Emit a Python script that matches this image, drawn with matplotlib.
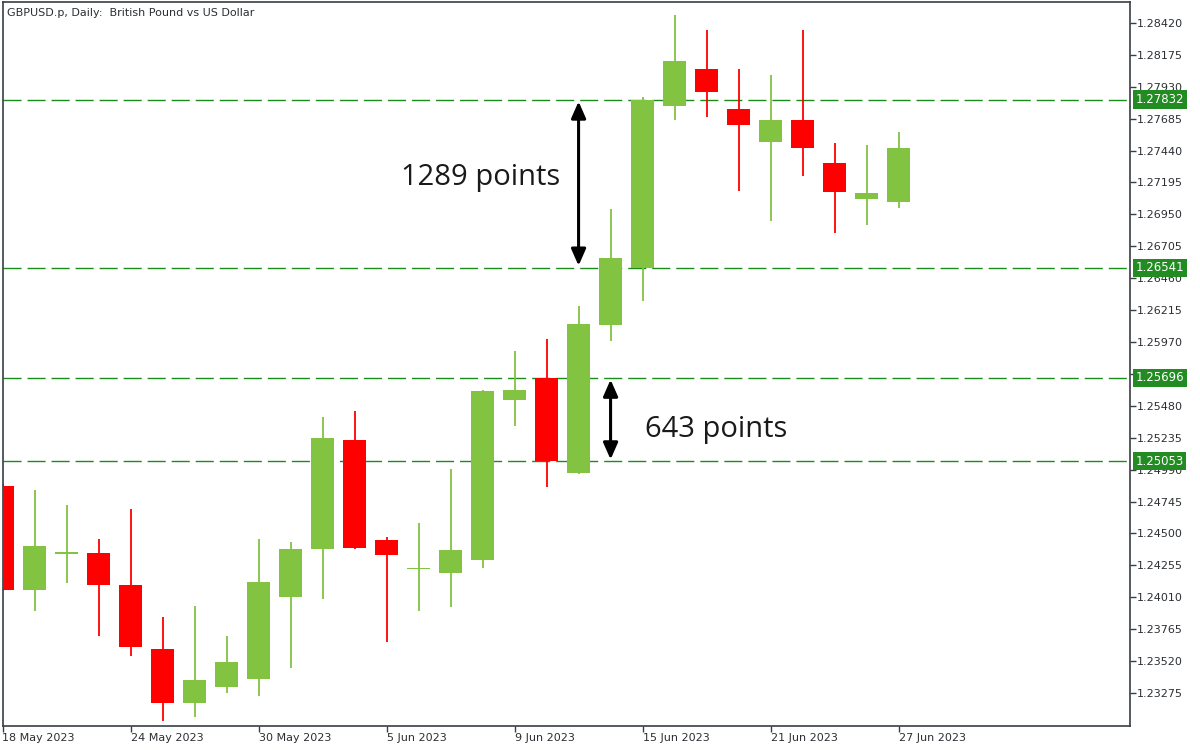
import matplotlib; matplotlib.use("Agg")
import matplotlib.pyplot as plt
import numpy as np

# GBPUSD daily, 18 May - 27 Jun 2023
dates = ["18 May", "19 May", "22 May", "23 May", "24 May", "25 May", "26 May", "29 May",
         "30 May", "31 May", "1 Jun", "2 Jun", "5 Jun", "6 Jun", "7 Jun", "8 Jun", "9 Jun",
         "12 Jun", "13 Jun", "14 Jun", "15 Jun", "16 Jun", "19 Jun", "20 Jun", "21 Jun",
         "22 Jun", "23 Jun", "26 Jun", "27 Jun"]
opens  = [1.24864, 1.24066, 1.24342, 1.24350, 1.24104, 1.23613, 1.23198, 1.23321, 1.23382,
          1.24012, 1.24381, 1.25218, 1.24450, 1.24225, 1.24196, 1.24296, 1.25525, 1.25696,
          1.24964, 1.26101, 1.26541, 1.27783, 1.28067, 1.27760, 1.27506, 1.27675, 1.27345,
          1.27068, 1.27045]
highs  = [1.24880, 1.24834, 1.24719, 1.24457, 1.24688, 1.23859, 1.23943, 1.23713, 1.24457,
          1.24434, 1.25394, 1.25440, 1.24473, 1.24580, 1.24995, 1.25602, 1.25901, 1.25993,
          1.26247, 1.26992, 1.27852, 1.28481, 1.28366, 1.28067, 1.28020, 1.28366, 1.27498,
          1.27483, 1.27583]
lows   = [1.24060, 1.23905, 1.24120, 1.23713, 1.23559, 1.23060, 1.23091, 1.23275, 1.23252,
          1.23467, 1.23997, 1.24380, 1.23667, 1.23905, 1.23935, 1.24235, 1.25325, 1.24857,
          1.24960, 1.25978, 1.26285, 1.27675, 1.27698, 1.27130, 1.26900, 1.27245, 1.26807,
          1.26869, 1.26999]
closes = [1.24066, 1.24404, 1.24358, 1.24104, 1.23628, 1.23198, 1.23375, 1.23513, 1.24127,
          1.24381, 1.25233, 1.24388, 1.24335, 1.24232, 1.24373, 1.25594, 1.25602, 1.25053,
          1.26109, 1.26615, 1.27832, 1.28128, 1.27890, 1.27637, 1.27675, 1.27460, 1.27122,
          1.27115, 1.27460]

levels = [1.27832, 1.26541, 1.25696, 1.25053]
yticks = [1.23275, 1.23520, 1.23765, 1.24010, 1.24255, 1.24500, 1.24745, 1.24990, 1.25235,
          1.25480, 1.25725, 1.25970, 1.26215, 1.26460, 1.26705, 1.26950, 1.27195, 1.27440,
          1.27685, 1.27930, 1.28175, 1.28420]
xtick_idx = [0, 4, 8, 12, 16, 20, 24, 28]
xtick_labels = ["18 May 2023", "24 May 2023", "30 May 2023", "5 Jun 2023", "9 Jun 2023",
                "15 Jun 2023", "21 Jun 2023", "27 Jun 2023"]
# measured moves: (arrow x, from level, to level, label, label x, label baseline)
moves = [(18.0, 1.27832, 1.26541, "1289 points", 14.95, 1.27175),
         (19.0, 1.25696, 1.25053, "643 points", 22.3, 1.25244)]

GREEN = "#82c341"
RED = "#ff0000"
LEVEL = "#1a8c1a"
AXC = "#383e45"

fig = plt.figure(figsize=(12, 7.5), dpi=100)
ax = fig.add_axes([2.5/1200, 24/750, 1127.5/1200, 724/750])

x = np.arange(len(dates))
o = np.array(opens); c = np.array(closes)
up = c >= o
cols = [GREEN if u else RED for u in up]
ax.vlines(x, lows, highs, colors=cols, linewidth=1.3, zorder=2)
bottom = np.minimum(o, c)
height = np.maximum(np.abs(c - o), 0.00008)
ax.bar(x, height, 0.72, bottom=bottom, color=cols, linewidth=0, zorder=3)

for lv in levels:
    ax.axhline(lv, color=LEVEL, lw=1.0, dashes=(13, 4.3), zorder=1)

for xp, y1, y2, lab, tx, ty in moves:
    ax.annotate("", xy=(xp, y2 + 0.00015), xytext=(xp, y1 - 0.00015),
                arrowprops=dict(arrowstyle="<|-|>,head_length=0.5,head_width=0.22",
                                color="black", lw=2.2, mutation_scale=20,
                                shrinkA=0, shrinkB=0), zorder=5)
    ax.text(tx, ty, lab, fontsize=21, family="Open Sans", color="#1a1a1a",
            ha="center", va="baseline", zorder=5)

ax.set_xlim(0, 35.23)
ax.set_ylim(1.23021, 1.28581)

for s in ax.spines.values():
    s.set_color(AXC); s.set_linewidth(1.2)

ax.yaxis.tick_right()
ax.set_yticks(yticks)
ax.set_yticklabels([f"{v:.5f}" for v in yticks])
ax.tick_params(axis="y", direction="out", length=4, width=1, color=AXC, labelsize=8,
               labelcolor="#2b2f33", pad=1)
ax.set_xticks(xtick_idx)
ax.set_xticklabels(xtick_labels, ha="left")
ax.tick_params(axis="x", direction="out", length=4, width=1, color=AXC, labelsize=8,
               labelcolor="#2b2f33", pad=1)

# price tags for the horizontal levels
for lv in levels:
    ax.annotate(f"{lv:.5f}", xy=(1.0, lv), xycoords=("axes fraction", "data"),
                xytext=(4, 0), textcoords="offset points", va="center", ha="left",
                fontsize=8.5, color="white", zorder=6, annotation_clip=False,
                bbox=dict(boxstyle="square,pad=0.22", fc="#228b22", ec="none"))

ax.text(0.004, 0.992, "GBPUSD.p, Daily:  British Pound vs US Dollar", transform=ax.transAxes,
        fontsize=8, color="#2b2f33", ha="left", va="top")

fig.savefig("out.png", dpi=100)
